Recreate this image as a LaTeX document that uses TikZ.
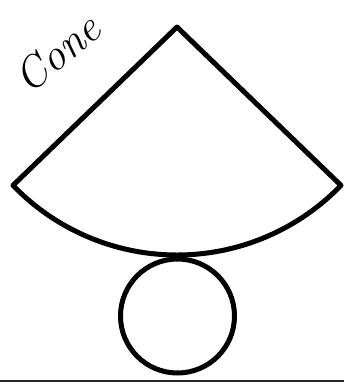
\documentclass[tikz,border=0pt]{standalone}
\usepackage{tikz}
\usetikzlibrary{positioning,calc}
\tikzset{
  every node/.style={anchor=center}
}
\begin{document}
\begin{tikzpicture}[
  x=1pt, y=-1pt,
  thick line/.style={line width=5pt, draw=black, line join=round},
  ground/.style={line width=1.8pt, draw=black!85},
  label text/.style={font=\fontsize{44}{46}\selectfont\itshape, rotate=40}
]
\useasboundingbox (0,0) rectangle (344,384);

% fan shaped net of the cone
\coordinate (apex) at (177,27);
\draw[thick line] (apex) -- ++(136:228) arc[start angle=136, end angle=44, radius=228] -- cycle;

% base circle
\node[circle, thick line, minimum size=114pt, inner sep=0pt] (base) at (177.5,316) {};

% title
\node[label text] (title) at (57,53) {Cone};

% bottom edge
\coordinate (gl) at (0,381);
\coordinate (gr) at (344,381);
\draw[ground] (gl) -- (gr);

\end{tikzpicture}
\end{document}
